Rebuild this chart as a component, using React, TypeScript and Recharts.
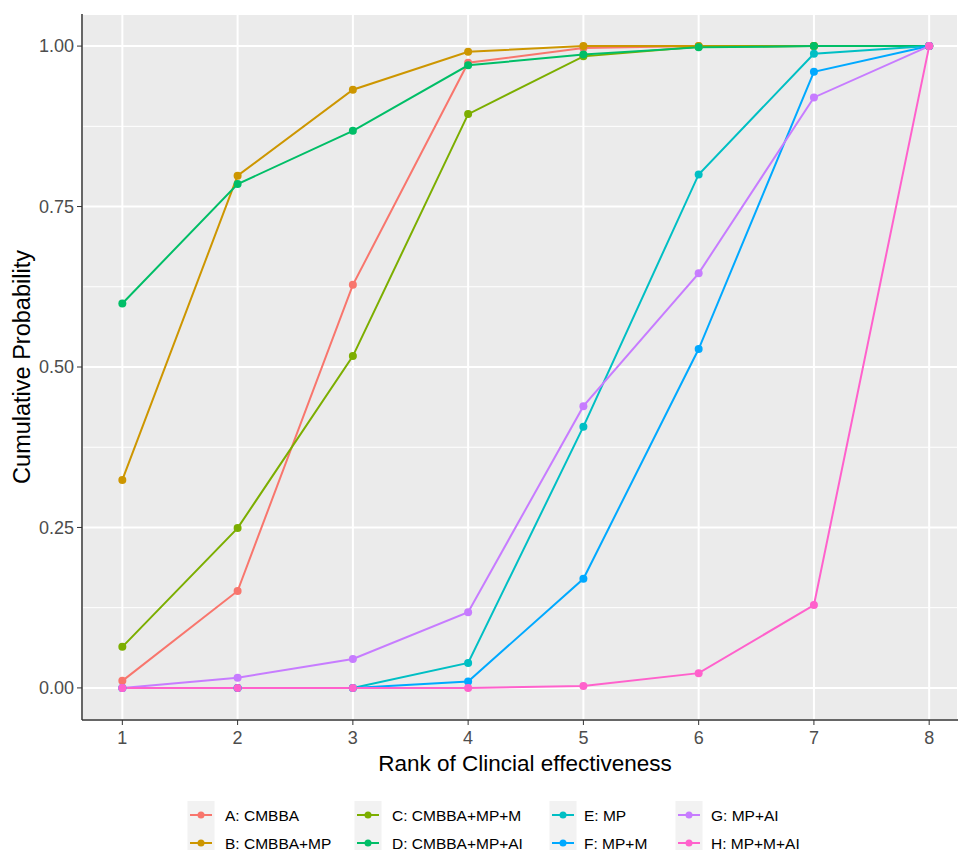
import { LineChart, Line, XAxis, YAxis, CartesianGrid, ReferenceLine, Label } from "recharts";

const ranks = [1, 2, 3, 4, 5, 6, 7, 8];
const yTicks = [0, 0.25, 0.5, 0.75, 1];
const yMinor = [0.125, 0.375, 0.625, 0.875];

const seriesNames = [
  "A: CMBBA",
  "B: CMBBA+MP",
  "C: CMBBA+MP+M",
  "D: CMBBA+MP+AI",
  "E: MP",
  "F: MP+M",
  "G: MP+AI",
  "H: MP+M+AI",
];
const seriesColors = ["#F8766D", "#CD9600", "#7CAE00", "#00BE67", "#00BFC4", "#00A9FF", "#C77CFF", "#FF61CC"];

const cmbba = [0.011, 0.151, 0.628, 0.974, 0.997, 1, 1, 1];
const cmbbaMp = [0.324, 0.798, 0.932, 0.991, 1, 1, 1, 1];
const cmbbaMpM = [0.064, 0.249, 0.517, 0.894, 0.984, 0.999, 1, 1];
const cmbbaMpAi = [0.599, 0.785, 0.868, 0.97, 0.987, 0.998, 1, 1];
const mp = [0, 0, 0, 0.039, 0.407, 0.8, 0.988, 1];
const mpM = [0, 0, 0, 0.01, 0.17, 0.528, 0.96, 1];
const mpAi = [0, 0.016, 0.045, 0.118, 0.439, 0.646, 0.92, 1];
const mpMAi = [0, 0, 0, 0, 0.003, 0.023, 0.129, 1];

const seriesValues = [cmbba, cmbbaMp, cmbbaMpM, cmbbaMpAi, mp, mpM, mpAi, mpMAi];
const keys = ["A", "B", "C", "D", "E", "F", "G", "H"];

const data = ranks.map((rank, i) => {
  const row: Record<string, number> = { rank };
  keys.forEach((k, s) => (row[k] = seriesValues[s][i]));
  return row;
});

const FONT = "'Liberation Sans', Arial, sans-serif";

// legend is ggplot-style: 4 columns, filled column by column
const legendKeyX = [201, 368, 563, 689];
const legendTextX = [225, 392, 584, 711];
const legendRowY = [815, 843];

function YTitle({ viewBox }: any) {
  const cy = viewBox.y + viewBox.height / 2;
  return (
    <text x={22} y={cy} transform={`rotate(-90, 22, ${cy})`} textAnchor="middle" dominantBaseline="central" fontSize={23.5} fill="#000" fontFamily={FONT}>
      Cumulative Probability
    </text>
  );
}

function LegendBlock() {
  return (
    <svg width={958} height={60} style={{ position: "absolute", left: 0, top: 790 }}>
      {keys.map((k, i) => {
        const col = Math.floor(i / 2);
        const row = i % 2;
        const cx = legendKeyX[col];
        const cy = legendRowY[row] - 790;
        return (
          <g key={k}>
            <rect x={cx - 13.5} y={cy - 14} width={27} height={28} fill="#F2F2F2" />
            <line x1={cx - 11} x2={cx + 11} y1={cy} y2={cy} stroke={seriesColors[i]} strokeWidth={2} />
            <circle cx={cx} cy={cy} r={3.5} fill={seriesColors[i]} />
            <text x={legendTextX[col]} y={cy} dominantBaseline="central" fontSize={15.5} fontFamily={FONT} fill="#000">
              {seriesNames[i]}
            </text>
          </g>
        );
      })}
    </svg>
  );
}

export default function App() {
  return (
    <div style={{ position: "absolute", left: 0, top: 0, width: 958, height: 850, background: "#fff", fontFamily: FONT }}>
      <LineChart width={958} height={850} data={data} margin={{ top: 14, right: 0, bottom: 70, left: 0 }}>
        <CartesianGrid fill="#EBEBEB" stroke="#FFFFFF" strokeWidth={2} />
        {yMinor.map((v) => (
          <ReferenceLine key={v} y={v} stroke="#FFFFFF" strokeWidth={1} />
        ))}
        <XAxis
          dataKey="rank"
          type="number"
          domain={[0.65, 8.25]}
          ticks={ranks}
          allowDataOverflow
          height={60}
          tickSize={5}
          tickMargin={6}
          tick={{ fontSize: 18, fill: "#4D4D4D", fontFamily: FONT }}
          axisLine={{ stroke: "#333333", strokeWidth: 1.5 }}
          tickLine={{ stroke: "#333333" }}
        >
          <Label value="Rank of Clincial effectiveness" position="insideBottom" offset={9} dx={5} fontSize={22.5} fill="#000" fontFamily={FONT} />
        </XAxis>
        <YAxis
          type="number"
          domain={[-0.05, 1.05]}
          ticks={yTicks}
          allowDataOverflow
          width={82}
          tickSize={5}
          tickMargin={3}
          tickFormatter={(v: number) => v.toFixed(2)}
          tick={{ fontSize: 18, fill: "#4D4D4D", fontFamily: FONT }}
          axisLine={{ stroke: "#333333", strokeWidth: 1.5 }}
          tickLine={{ stroke: "#333333" }}
        >
          <Label content={<YTitle />} />
        </YAxis>
        {keys.map((k, i) => (
          <Line
            key={k}
            dataKey={k}
            name={seriesNames[i]}
            type="linear"
            stroke={seriesColors[i]}
            strokeWidth={2}
            dot={{ r: 4, fill: seriesColors[i], stroke: "none" }}
            activeDot={false}
            isAnimationActive={false}
          />
        ))}
      </LineChart>
      <LegendBlock />
    </div>
  );
}
